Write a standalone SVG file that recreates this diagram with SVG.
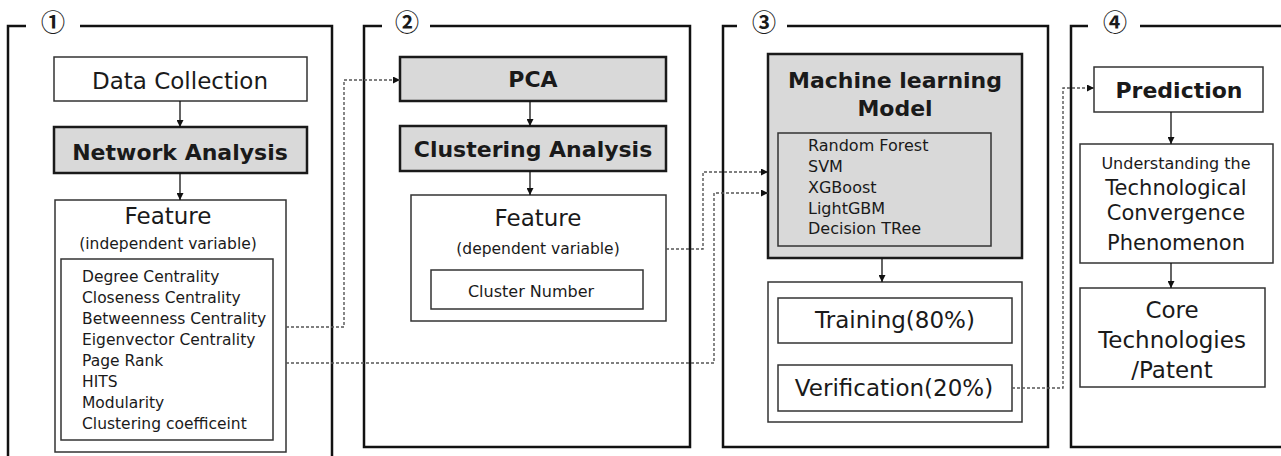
<svg xmlns="http://www.w3.org/2000/svg" width="1281" height="456" viewBox="0 0 1281 456">
<defs>
<marker id="ah" viewBox="0 0 10 10" refX="10" refY="5" markerWidth="7" markerHeight="7" markerUnits="userSpaceOnUse" orient="auto">
<path d="M0,0 L10,5 L0,10 z" fill="#111"/>
</marker>
</defs>
<style>
text{font-family:"DejaVu Sans","Open Sans",sans-serif;fill:#1a1a1a}
.panel{fill:none;stroke:#111;stroke-width:2.5}
.box{fill:#fff;stroke:#333;stroke-width:1.5}
.gbox{fill:#d9d9d9;stroke:#1a1a1a;stroke-width:2.5}
.glist{fill:#d9d9d9;stroke:#333;stroke-width:1.5}
.num{font-family:"Noto Sans CJK KR","DejaVu Sans",sans-serif;font-size:24px;font-weight:bold;text-anchor:middle}
.c{text-anchor:middle}
.big{font-size:23px}
.med{font-size:21px}
.bold{font-size:22px;font-weight:bold}
.mid{font-size:15.5px}
.sm{font-size:16px}
.arrow{stroke:#111;stroke-width:1.3;fill:none;marker-end:url(#ah)}
.dash{stroke:#555;stroke-width:1.4;fill:none;stroke-dasharray:3 2;marker-end:url(#ah)}
</style>

<g id="panel1">
<path class="panel" d="M26,26 H8 V460 M80,26 H332 V460"/>
<text class="num" x="53" y="31">①</text>
</g>
<g id="panel2">
<path class="panel" d="M382,26 H364 V447 H690 V26 H430"/>
<text class="num" x="407" y="31">②</text>
</g>
<g id="panel3">
<path class="panel" d="M737,26 H723 V447 H1048 V26 H787"/>
<text class="num" x="764" y="31">③</text>
</g>
<g id="panel4">
<path class="panel" d="M1088,26 H1071 V447 H1285 M1285,26 H1140"/>
<text class="num" x="1115" y="31">④</text>
</g>

<g id="data-collection">
<rect class="box" x="54" y="57" width="253" height="44"/>
<text class="c big" x="180" y="89">Data Collection</text>
</g>
<g id="network-analysis">
<rect class="gbox" x="54" y="127" width="253" height="46"/>
<text class="c bold" x="180" y="160">Network Analysis</text>
</g>
<g id="feature-independent">
<rect class="box" x="55" y="200" width="231" height="252"/>
<text class="c big" x="168" y="224">Feature</text>
<text class="c mid" x="168" y="249">(independent variable)</text>
<rect class="box" x="61" y="259" width="212" height="181"/>
<text class="mid" x="82" y="282">Degree Centrality</text>
<text class="mid" x="82" y="303">Closeness Centrality</text>
<text class="mid" x="82" y="324">Betweenness Centrality</text>
<text class="mid" x="82" y="345">Eigenvector Centrality</text>
<text class="mid" x="82" y="366">Page Rank</text>
<text class="mid" x="82" y="387">HITS</text>
<text class="mid" x="82" y="408">Modularity</text>
<text class="mid" x="82" y="429">Clustering coefficeint</text>
</g>

<g id="pca">
<rect class="gbox" x="400" y="57" width="266" height="44"/>
<text class="c bold" x="533" y="87">PCA</text>
</g>
<g id="clustering-analysis">
<rect class="gbox" x="400" y="126" width="266" height="45"/>
<text class="c bold" x="533" y="157">Clustering Analysis</text>
</g>
<g id="feature-dependent">
<rect class="box" x="411" y="195" width="255" height="126"/>
<text class="c big" x="538" y="226">Feature</text>
<text class="c mid" x="538" y="254">(dependent variable)</text>
<rect class="box" x="431" y="270" width="212" height="39"/>
<text class="c sm" x="531" y="297">Cluster Number</text>
</g>

<g id="ml-model">
<rect class="gbox" x="768" y="54" width="254" height="204" stroke-width="3"/>
<text class="c bold" x="895" y="88">Machine learning</text>
<text class="c bold" x="895" y="116">Model</text>
<rect class="glist" x="778" y="133" width="213" height="113"/>
<text class="sm" x="808" y="151">Random Forest</text>
<text class="sm" x="808" y="172">SVM</text>
<text class="sm" x="808" y="193">XGBoost</text>
<text class="sm" x="808" y="214">LightGBM</text>
<text class="sm" x="808" y="234">Decision TRee</text>
</g>
<g id="split">
<rect class="box" x="768" y="282" width="254" height="140"/>
</g>
<g id="training">
<rect class="box" x="778" y="298" width="234" height="45"/>
<text class="c big" x="895" y="328">Training(80%)</text>
</g>
<g id="verification">
<rect class="box" x="778" y="365" width="234" height="46"/>
<text class="c big" x="894" y="396">Verification(20%)</text>
</g>

<g id="prediction">
<rect class="box" x="1094" y="67" width="169" height="45"/>
<text class="c bold" x="1179" y="98">Prediction</text>
</g>
<g id="understanding">
<rect class="box" x="1080" y="144" width="193" height="119"/>
<text class="c sm" x="1176" y="169">Understanding the</text>
<text class="c med" x="1176" y="195">Technological</text>
<text class="c med" x="1176" y="220">Convergence</text>
<text class="c med" x="1176" y="250">Phenomenon</text>
</g>
<g id="core">
<rect class="box" x="1080" y="288" width="185" height="99"/>
<text class="c big" x="1172" y="318">Core</text>
<text class="c big" x="1172" y="348">Technologies</text>
<text class="c big" x="1172" y="378">/Patent</text>
</g>

<g id="connectors">
<path class="arrow" d="M180,101 V127"/>
<path class="arrow" d="M180,173 V200"/>
<path class="arrow" d="M530,101 V126"/>
<path class="arrow" d="M530,171 V195"/>
<path class="arrow" d="M882,258 V282"/>
<path class="arrow" d="M1171,112 V144"/>
<path class="arrow" d="M1171,263 V288"/>
<path class="dash" d="M286,327 H344 V80 H400"/>
<path class="dash" d="M286,363 H714 V193 H768"/>
<path class="dash" d="M666,249 H703 V172 H768"/>
<path class="dash" d="M1012,388 H1063 V88 H1094"/>
</g>
</svg>
